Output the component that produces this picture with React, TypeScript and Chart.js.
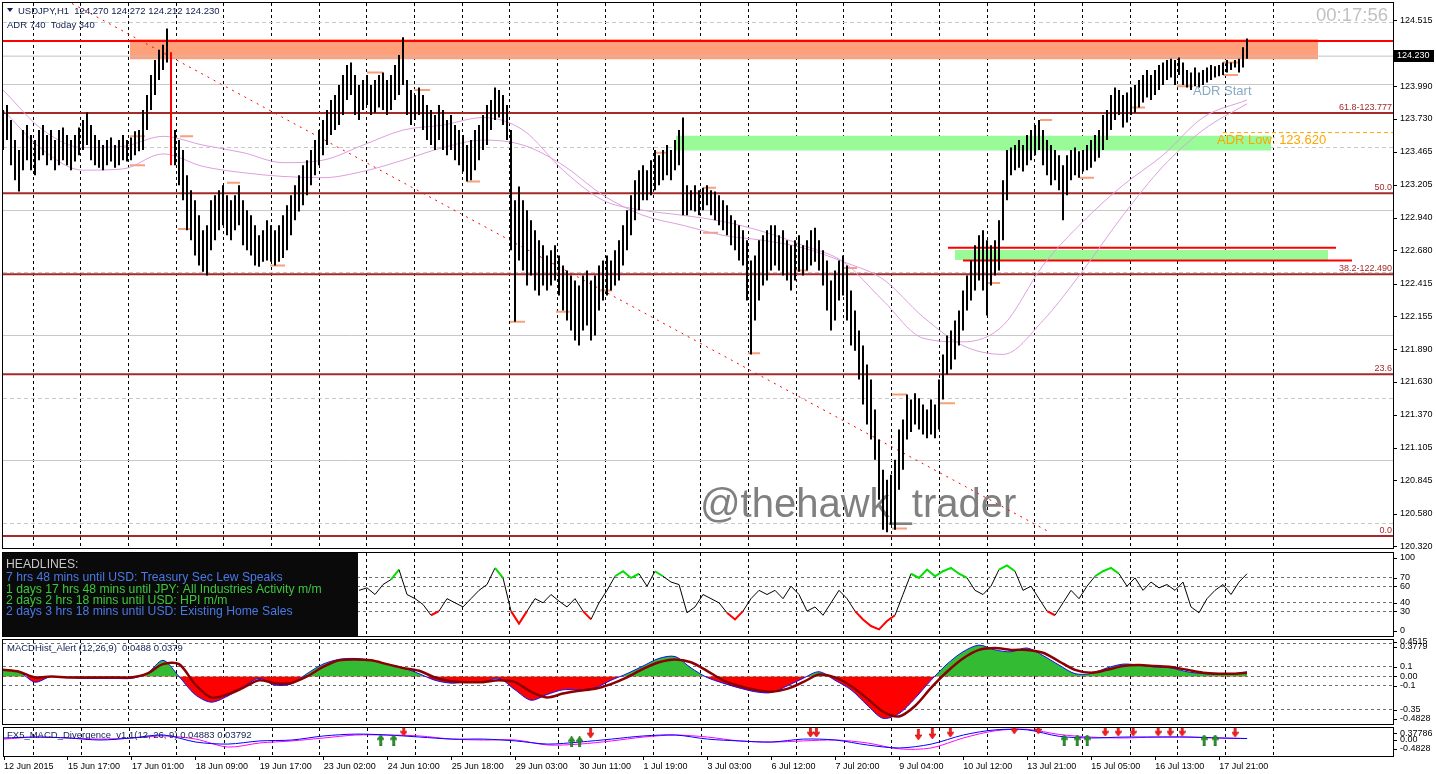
import React, { useEffect, useRef } from "react";
import { Chart, registerables } from "chart.js";

Chart.register(...registerables);

const FONT = "'Liberation Sans', Arial, Helvetica, sans-serif";
Chart.defaults.font.family = FONT;
Chart.defaults.font.size = 9;

// ================= DATA =================
// USDJPY 2-hour price ranges (index = bar number, left to right)
const barHigh = [
  123.80,123.84,123.72,123.56,123.48,123.64,123.68,123.60,123.56,123.64,
  123.68,123.60,123.64,123.56,123.64,123.66,123.60,123.56,123.60,123.66,
  123.72,123.78,123.68,123.60,123.56,123.52,123.56,123.58,123.52,123.56,
  123.60,123.56,123.58,123.63,123.64,123.80,123.92,124.08,124.20,124.28,
  124.32,124.45,124.26,123.64,123.56,123.48,123.28,123.16,123.08,122.96,
  122.84,122.88,123.08,123.12,123.16,123.20,123.12,123.08,123.12,123.20,
  123.08,123.00,122.96,122.88,122.80,122.84,122.92,122.88,122.84,122.88,
  122.96,123.04,123.12,123.20,123.28,123.36,123.40,123.48,123.56,123.64,
  123.72,123.80,123.88,123.92,124.00,124.08,124.16,124.18,124.08,124.00,
  124.04,124.08,124.00,124.04,124.08,124.10,124.04,124.08,124.16,124.24,
  124.38,124.04,123.96,123.92,123.98,123.92,123.84,123.80,123.76,123.84,
  123.80,123.72,123.76,123.68,123.64,123.60,123.52,123.56,123.64,123.68,
  123.76,123.84,123.88,123.98,123.96,123.92,123.84,123.64,123.08,123.19,
  123.08,123.00,122.92,122.84,122.76,122.72,122.64,122.68,122.72,122.64,
  122.56,122.52,122.48,122.44,122.40,122.48,122.52,122.44,122.48,122.56,
  122.60,122.64,122.60,122.68,122.76,122.88,123.00,123.12,123.24,123.32,
  123.36,123.32,123.40,123.48,123.44,123.48,123.52,123.48,123.56,123.64,
  123.74,123.20,123.16,123.20,123.16,123.18,123.20,123.16,123.15,123.12,
  123.08,123.04,122.96,122.92,122.88,122.84,122.76,122.60,122.64,122.76,
  122.80,122.84,122.88,122.88,122.80,122.84,122.76,122.72,122.76,122.80,
  122.72,122.76,122.84,122.86,122.76,122.68,122.60,122.44,122.52,122.60,
  122.64,122.56,122.36,122.20,122.04,121.92,121.77,121.65,121.41,121.17,
  120.93,120.85,120.89,121.01,121.25,121.33,121.53,121.49,121.54,121.50,
  121.45,121.41,121.49,121.45,121.65,121.85,122.00,122.04,122.12,122.20,
  122.36,122.48,122.60,122.72,122.80,122.84,122.76,122.72,122.76,122.92,
  123.24,123.48,123.50,123.52,123.56,123.52,123.60,123.64,123.68,123.72,
  123.64,123.56,123.52,123.48,123.44,123.36,123.44,123.48,123.50,123.47,
  123.48,123.52,123.56,123.60,123.64,123.76,123.80,123.92,123.98,123.96,
  123.92,123.94,123.98,124.00,124.04,124.08,124.12,124.08,124.12,124.16,
  124.18,124.20,124.21,124.20,124.22,124.18,124.12,124.10,124.14,124.10,
  124.12,124.14,124.16,124.15,124.16,124.18,124.20,124.18,124.20,124.21,
  124.30,124.37,
];
const barLow = [
  123.48,123.56,123.36,123.24,123.15,123.32,123.40,123.32,123.28,123.40,
  123.44,123.36,123.40,123.32,123.36,123.40,123.36,123.32,123.39,123.44,
  123.48,123.52,123.40,123.36,123.34,123.32,123.36,123.39,123.34,123.36,
  123.40,123.39,123.40,123.44,123.47,123.48,123.64,123.80,123.92,124.04,
  124.12,124.18,123.36,123.36,123.20,123.08,122.84,122.76,122.64,122.56,
  122.51,122.48,122.68,122.76,122.84,122.88,122.80,122.76,122.84,122.88,
  122.72,122.68,122.64,122.56,122.55,122.59,122.60,122.59,122.56,122.59,
  122.62,122.68,122.80,122.92,122.99,123.04,123.12,123.20,123.28,123.36,
  123.44,123.52,123.60,123.64,123.68,123.76,123.88,123.92,123.76,123.72,
  123.80,123.84,123.76,123.78,123.82,123.80,123.76,123.80,123.88,123.92,
  124.00,123.76,123.68,123.72,123.76,123.64,123.56,123.52,123.48,123.56,
  123.48,123.44,123.48,123.40,123.36,123.31,123.23,123.24,123.32,123.40,
  123.48,123.52,123.64,123.72,123.74,123.68,123.56,122.68,122.11,122.60,
  122.52,122.40,122.48,122.36,122.32,122.40,122.36,122.40,122.44,122.32,
  122.20,122.12,122.04,121.96,121.92,122.04,122.08,121.96,122.00,122.20,
  122.28,122.32,122.36,122.40,122.44,122.56,122.68,122.80,122.92,123.00,
  123.08,123.08,123.12,123.16,123.20,123.24,123.28,123.24,123.32,123.36,
  122.96,122.96,123.00,122.99,122.96,123.00,123.04,122.96,122.92,122.88,
  122.84,122.80,122.72,122.68,122.60,122.56,122.28,121.85,122.12,122.28,
  122.40,122.44,122.52,122.56,122.52,122.48,122.44,122.36,122.44,122.51,
  122.48,122.52,122.56,122.59,122.52,122.40,122.20,122.04,122.12,122.28,
  122.32,122.12,121.92,121.88,121.65,121.45,121.29,121.17,121.01,120.69,
  120.45,120.43,120.49,120.45,120.77,120.93,121.17,121.23,121.29,121.25,
  121.21,121.18,121.21,121.18,121.25,121.49,121.69,121.73,121.81,121.92,
  122.04,122.20,122.28,122.36,122.44,122.36,122.16,122.40,122.48,122.52,
  122.76,123.08,123.28,123.32,123.34,123.31,123.36,123.40,123.44,123.48,
  123.36,123.28,123.20,123.24,123.16,122.92,123.12,123.24,123.28,123.26,
  123.31,123.32,123.34,123.39,123.42,123.48,123.56,123.64,123.72,123.76,
  123.66,123.70,123.76,123.78,123.82,123.86,123.90,123.88,123.92,123.96,
  124.00,124.04,124.06,124.00,124.08,124.00,123.98,123.96,123.99,123.98,
  124.00,124.02,124.04,124.06,124.07,124.08,124.10,124.12,124.14,124.10,
  124.14,124.21,
];
const redBarIndex = 42;
const lastPrice = 124.23;
const symbolLabel = "USDJPY,H1";
const ohlcText = ["124.270", "124.272", "124.212", "124.230"];
const adrText = "ADR 740  Today 340";
const timerText = "00:17:56";
const watermarkText = "@thehawk_trader";

// moving averages (bar index -> price)
const maIndex = [0,10,20,30,40,50,60,70,80,90,100,110,120,130,140,150,160,170,180,190,200,210,220,230,240,250,260,270,280,290,300,311];
const maFast = [123.96,123.64,123.50,123.51,123.59,123.52,123.46,123.38,123.40,123.52,123.64,123.68,123.74,123.64,123.32,123.08,123.00,122.96,122.91,122.83,122.72,122.59,122.28,121.98,121.95,122.08,122.56,122.91,123.20,123.44,123.74,123.88];
const maSlow = [123.80,123.48,123.32,123.33,123.45,123.35,123.30,123.27,123.26,123.31,123.40,123.50,123.56,123.52,123.36,123.12,122.96,122.88,122.80,122.76,122.70,122.59,122.45,122.15,121.92,121.85,122.12,122.52,122.96,123.35,123.64,123.85];

// price axis labels
const priceTicks = [124.515,124.25,123.99,123.73,123.465,123.205,122.94,122.68,122.415,122.155,121.89,121.63,121.37,121.105,120.845,120.58,120.32];
const wholeLevels = [121, 122, 123, 124];
const halfLevels = [120.5, 121.5, 122.5, 123.5, 124.5];

// Fibonacci levels
const fibPrices = [120.40, 121.691, 122.49, 123.136, 123.777];
const fibLabels = ["0.0", "23.6", "38.2-122.490", "50.0", "61.8-123.777"];

// horizontal objects
const resistancePrice = 124.35;
const zoneFrom = [31.75, 168.25, 238];
const zoneTo = [328.75, 317, 331.25];
const zoneTop = [124.364, 123.595, 122.683];
const zoneBottom = [124.205, 123.476, 122.603];
const zoneColors = ["#ffa07a", "#98fb98", "#98fb98"];
const redLineFrom = [236.25, 240];
const redLineTo = [333.25, 337.25];
const redLinePrice = [122.70, 122.60];
const adrLowPrice = 123.62;
const adrLowFrom = 305;
const adrLowLabel = "ADR Low: 123.620";
const adrLowLabelPos = [303.5, 123.56];
const adrStartLabel = "ADR Start";
const adrStartLabelPos = [297.5, 123.95];
const trendX = [17.25, 261.75];
const trendY = [124.65, 120.43];

// daily marker ticks
const markerFrom = [31.75,31.75,44.25,43.75,56,66.75,91,102.75,116,126.75,138.25,149.25,163,175,175,186.25,198,210,222.25,222.25,234.25,245.75,259.25,269.25,281.75,293.5,305,305];
const markerTo = [35.5,35.5,47.5,47.25,59.25,70.5,95,106.75,119.25,130.5,141.75,152.25,166.25,178.75,178.25,189.25,201.25,213.5,226,226,238,249.25,262.25,272.75,285.5,297.5,308.75,308.75];
const markerPrice = [123.59,123.36,123.59,122.85,123.22,122.56,124.10,123.96,123.23,122.11,122.19,122.36,123.46,122.82,123.18,121.86,122.52,122.54,121.53,120.46,121.46,122.42,123.72,123.26,123.82,123.99,124.18,124.08];

// time axis
const xLabelIndex = [0,16,32,48,64,80,96,112,128,144,160,176,192,208,224,240,256,272,288,304];
const xLabelText = ["12 Jun 2015","15 Jun 17:00","17 Jun 01:00","18 Jun 09:00","19 Jun 17:00","23 Jun 02:00","24 Jun 10:00","25 Jun 18:00","29 Jun 03:00","30 Jun 11:00","1 Jul 19:00","3 Jul 03:00","6 Jul 12:00","7 Jul 20:00","9 Jul 04:00","10 Jul 12:00","13 Jul 21:00","15 Jul 05:00","16 Jul 13:00","17 Jul 21:00"];

// headlines
const headlineText = [
  "HEADLINES:",
  "7 hrs 48 mins until USD: Treasury Sec Lew Speaks",
  "1 days 17 hrs 48 mins until JPY: All Industries Activity m/m",
  "2 days 2 hrs 18 mins until USD: HPI m/m",
  "2 days 3 hrs 18 mins until USD: Existing Home Sales",
];
const headlineColors = ["#c8c8c8", "#4b78e6", "#3cc83c", "#3cc83c", "#4b78e6"];

// RSI (every 2 bars starting at bar 89)
const rsiStartIndex = 89;
const rsiValues = [
  55,58,50,62,68,80,50,45,38,25,
  30,45,40,35,45,55,62,82,70,30,
  15,30,45,40,50,42,35,45,30,20,
  40,55,72,78,70,75,60,78,72,65,
  62,28,35,50,45,40,28,20,30,45,
  55,50,55,45,60,50,30,35,25,40,
  55,45,30,20,12,8,18,25,50,75,
  70,80,72,78,82,75,70,55,50,60,
  80,85,78,55,60,45,30,25,40,55,
  45,60,72,78,82,75,60,70,55,65,
  58,62,55,65,35,28,45,55,62,50,
  65,75,
];
const rsiAxis = [100, 70, 60, 40, 30, 0];
const rsiLevels = [70, 60, 40, 30];

// MACD (every 4 bars, last point = last bar)
const macdMain = [
  0.07,0.05,-0.06,0.00,-0.01,-0.02,-0.02,-0.02,-0.02,0.03,
  0.17,0.00,-0.19,-0.27,-0.21,-0.11,-0.02,-0.09,-0.08,0.03,
  0.13,0.18,0.19,0.17,0.13,0.09,0.03,-0.04,-0.07,-0.06,
  -0.06,-0.02,-0.14,-0.25,-0.19,-0.14,-0.14,-0.12,-0.04,0.03,
  0.11,0.19,0.21,0.09,-0.01,-0.07,-0.12,-0.16,-0.17,-0.10,
  -0.02,0.05,-0.04,-0.14,-0.30,-0.44,-0.39,-0.23,-0.04,0.13,
  0.26,0.33,0.28,0.26,0.30,0.22,0.12,0.03,0.03,0.09,
  0.13,0.12,0.10,0.09,0.05,0.03,0.02,0.03,0.05,
];
const macdSignal = [
  0.07,0.05,-0.01,0.00,-0.01,-0.01,-0.01,-0.01,-0.01,0.03,
  0.13,0.13,-0.08,-0.22,-0.19,-0.12,-0.04,-0.07,-0.07,0.00,
  0.10,0.17,0.18,0.17,0.13,0.09,0.06,-0.01,-0.05,-0.06,
  -0.06,-0.04,-0.06,-0.16,-0.22,-0.18,-0.15,-0.13,-0.08,-0.01,
  0.08,0.15,0.18,0.15,0.06,-0.04,-0.10,-0.14,-0.16,-0.13,
  -0.06,0.02,-0.01,-0.10,-0.23,-0.37,-0.42,-0.31,-0.12,0.05,
  0.19,0.28,0.30,0.28,0.28,0.25,0.16,0.07,0.04,0.07,
  0.11,0.12,0.11,0.10,0.07,0.04,0.03,0.03,0.04,
];
const macdLevels = [0.35, 0.1, 0, -0.1, -0.35];
const macdAxisValues = [0.4515, 0.3779, 0.1, 0, -0.1, -0.35, -0.4828];
const macdAxisText = ["0.4515", "0.3779", "0.1", "0.00", "-0.1", "-0.35", "-0.4828"];
const macdTitle = "MACDHist_Alert (12,26,9)  0.0488 0.0379";

// MACD divergence panel (every 8 bars, last point = last bar)
const divBlue = [
  0.11,0.16,0.11,0.00,0.11,0.27,-0.11,-0.22,-0.05,0.00,
  0.22,0.32,0.27,0.16,0.05,0.05,-0.05,-0.22,-0.11,0.05,
  0.22,0.27,0.05,-0.05,-0.11,0.05,0.00,-0.27,-0.43,-0.22,
  0.27,0.55,0.55,0.20,0.11,0.16,0.16,0.16,0.11,0.08,
];
const divMagenta = [
  0.05,0.16,0.11,0.05,0.11,0.22,0.05,-0.38,-0.16,-0.05,
  0.11,0.27,0.27,0.22,0.05,0.00,0.00,-0.27,-0.22,-0.05,
  0.16,0.27,0.16,-0.05,-0.11,-0.05,0.00,-0.16,-0.48,-0.43,
  0.11,0.50,0.58,0.30,0.16,0.11,0.16,0.16,0.11,0.08,
];
const upArrowX = [94.25, 97.5, 142, 144, 265.25, 268.5, 271, 300.25, 303];
const upArrowY = [0.0, 0.0, -0.1, -0.1, 0.0, 0.0, 0.0, 0.0, 0.0];
const downArrowX = [100, 146.75, 201.75, 203.25, 228.75, 232.25, 236.75, 252.75, 258.75, 275.5, 278.75, 282.5, 288.75, 291.75, 294.75, 308];
const downArrowY = [0.5, 0.4, 0.45, 0.45, 0.3, 0.35, 0.45, 0.62, 0.62, 0.5, 0.5, 0.5, 0.5, 0.5, 0.5, 0.45];
const divAxisValues = [0.37786, 0, -0.4828];
const divAxisText = ["0.37786", "0.00", "-0.4828"];
const divTitle = "FX5_MACD_Divergence_v1.1(12, 26, 9) 0.04883 0.03792";

// ================= LAYOUT CONSTANTS =================
const X_MIN = 0;
const X_MAX = 347.5;
const Y_MIN = 120.305;
const Y_MAX = 124.654;
const vGrid = Array.from({ length: 27 }, (_, k) => 7.5 + k * 11.925);
const TEXT_NAVY = "#0f1e50";

// ================= HELPERS =================
function xAxes(withLabels: boolean): any {
  return {
    x: {
      type: "linear", position: "bottom", min: X_MIN, max: X_MAX, bounds: "data", offset: false,
      grid: withLabels
        ? { display: true, offset: false, drawOnChartArea: false, drawTicks: true, tickLength: 4, color: "#000" }
        : { display: false, offset: false },
      border: { display: false },
      ticks: withLabels
        ? {
            display: true, autoSkip: false, maxRotation: 0, minRotation: 0, align: "start", padding: 1,
            color: "#000", font: { size: 9, family: FONT },
            callback: (v: any) => {
              const k = xLabelIndex.indexOf(Number(v));
              return k >= 0 ? xLabelText[k] : "";
            },
          }
        : { display: false },
      afterBuildTicks: withLabels ? (ax: any) => { ax.ticks = xLabelIndex.map((v) => ({ value: v })); } : undefined,
      afterFit: (ax: any) => { ax.height = withLabels ? 18 : 0; },
    },
    xg: {
      type: "linear", position: "bottom", min: X_MIN, max: X_MAX, bounds: "data", offset: false,
      grid: { display: true, offset: false, drawOnChartArea: true, drawTicks: false, color: "#000", lineWidth: 1 },
      border: { display: false, dash: [3, 3] },
      ticks: { display: false },
      afterBuildTicks: (ax: any) => { ax.ticks = vGrid.map((v) => ({ value: v })); },
      afterFit: (ax: any) => { ax.height = 0; },
    },
  };
}

function yAxis(min: number, max: number, levels: number[] | null, color: string, dash: number[], width: number): any {
  return {
    type: "linear", position: "right", min, max, bounds: "data",
    grid: levels
      ? { display: true, drawOnChartArea: true, drawTicks: false, color, lineWidth: 1 }
      : { display: false },
    border: { display: false, dash },
    ticks: { display: false },
    afterBuildTicks: levels ? (ax: any) => { ax.ticks = levels.map((v) => ({ value: v })); } : undefined,
    afterFit: (ax: any) => { ax.width = width; },
  };
}

function baseOptions(padding: any): any {
  return {
    responsive: false,
    maintainAspectRatio: false,
    animation: false,
    events: [],
    layout: { padding },
    plugins: { legend: { display: false }, tooltip: { enabled: false } },
  };
}

function lineDs(data: any[], color: string, width: number, extra: any = {}): any {
  return {
    type: "line", data, borderColor: color, borderWidth: width, pointRadius: 0,
    fill: false, tension: 0, spanGaps: false, xAxisID: "x", yAxisID: "y", order: 4, ...extra,
  };
}

function axisPlugin(id: string, values: number[], texts: string[], clamp: boolean, dys: number[] = [], extra?: (chart: any) => void): any {
  return {
    id,
    afterDraw(chart: any) {
      const { ctx, chartArea: a } = chart;
      const sy = chart.scales.y;
      ctx.save();
      ctx.font = `9px ${FONT}`;
      ctx.fillStyle = "#000";
      ctx.strokeStyle = "#000";
      ctx.lineWidth = 1;
      ctx.textAlign = "left";
      ctx.textBaseline = "middle";
      values.forEach((v, i) => {
        let py = sy.getPixelForValue(v);
        if (clamp) py = Math.min(Math.max(py, a.top + 5), a.bottom - 5);
        py += dys[i] || 0;
        const ry = Math.round(py) + 0.5;
        ctx.beginPath();
        ctx.moveTo(a.right + 1, ry);
        ctx.lineTo(a.right + 4, ry);
        ctx.stroke();
        ctx.fillText(texts[i], a.right + 7, py);
      });
      ctx.strokeRect(a.left - 0.5, a.top - 0.5, a.right - a.left + 1, a.bottom - a.top + 1);
      if (extra) extra(chart);
      ctx.restore();
    },
  };
}

function makeArrow(up: boolean, fill: string, stroke: string) {
  const c = document.createElement("canvas");
  c.width = 7;
  c.height = 11;
  const g = c.getContext("2d")!;
  g.fillStyle = fill;
  g.strokeStyle = stroke;
  g.lineWidth = 0.6;
  g.beginPath();
  if (up) {
    g.moveTo(3.5, 0); g.lineTo(7, 5); g.lineTo(4.5, 5); g.lineTo(4.5, 11); g.lineTo(2.5, 11); g.lineTo(2.5, 5); g.lineTo(0, 5);
  } else {
    g.moveTo(3.5, 11); g.lineTo(7, 6); g.lineTo(4.5, 6); g.lineTo(4.5, 0); g.lineTo(2.5, 0); g.lineTo(2.5, 6); g.lineTo(0, 6);
  }
  g.closePath();
  g.fill();
  g.stroke();
  return c;
}

// ================= CHART CONFIGS =================
function mainConfig(): any {
  const full = (p: number) => [{ x: X_MIN, y: p }, { x: X_MAX, y: p }];
  const markerData: any[] = [];
  markerFrom.forEach((f, i) => {
    markerData.push({ x: f, y: markerPrice[i] }, { x: markerTo[i], y: markerPrice[i] }, { x: markerTo[i], y: null });
  });
  const redLineData: any[] = [];
  redLineFrom.forEach((f, i) => {
    redLineData.push({ x: f, y: redLinePrice[i] }, { x: redLineTo[i], y: redLinePrice[i] }, { x: redLineTo[i], y: null });
  });

  const datasets: any[] = [
    {
      type: "bar",
      data: barHigh.map((h, i) => ({ x: i, y: [barLow[i], h] })),
      backgroundColor: (c: any) => (c.dataIndex === redBarIndex ? "#ff0000" : "#000000"),
      borderWidth: 0, barThickness: 2, grouped: false, inflateAmount: 0,
      xAxisID: "x", yAxisID: "y", order: 0,
    },
    lineDs(maIndex.map((x, i) => ({ x, y: maFast[i] })), "#dda0dd", 1, { tension: 0.4, cubicInterpolationMode: "monotone", order: 2 }),
    lineDs(maIndex.map((x, i) => ({ x, y: maSlow[i] })), "#dda0dd", 1, { tension: 0.4, cubicInterpolationMode: "monotone", order: 2 }),
    lineDs(trendX.map((x, i) => ({ x, y: trendY[i] })), "#ff0000", 1, { borderDash: [2, 5], order: 3 }),
    lineDs(markerData, "#f7a07c", 2, { order: 3 }),
    lineDs(full(lastPrice), "#c0c0c0", 1, { order: 7 }),
    ...fibPrices.map((p) => lineDs(full(p), "#a52a2a", 2, { order: 4 })),
    lineDs(full(resistancePrice), "#ff0000", 2, { order: 4 }),
    lineDs(redLineData, "#ff0000", 2, { order: 4 }),
    lineDs([{ x: adrLowFrom, y: adrLowPrice }, { x: X_MAX, y: adrLowPrice }], "#ffa500", 1, { borderDash: [4, 3], order: 4 }),
    ...zoneFrom.map((f, i) =>
      lineDs([{ x: f, y: zoneTop[i] }, { x: zoneTo[i], y: zoneTop[i] }], "rgba(0,0,0,0)", 0, {
        fill: { value: zoneBottom[i] }, backgroundColor: zoneColors[i], order: 9,
      })
    ),
  ];

  const decor = {
    id: "mainDecor",
    beforeDatasetsDraw(chart: any) {
      const { ctx } = chart;
      ctx.save();
      ctx.font = `40px ${FONT}`;
      ctx.fillStyle = "#808080";
      ctx.textAlign = "left";
      ctx.textBaseline = "alphabetic";
      ctx.fillText(watermarkText, 700, 517);
      ctx.restore();
    },
    afterDatasetsDraw(chart: any) {
      const { ctx, chartArea: a, scales } = chart;
      const sx = scales.x;
      const sy = scales.y;
      ctx.save();
      ctx.font = `9px ${FONT}`;
      ctx.fillStyle = "#a52a2a";
      ctx.textAlign = "right";
      ctx.textBaseline = "alphabetic";
      fibPrices.forEach((p, i) => ctx.fillText(fibLabels[i], a.right - 1, sy.getPixelForValue(p) - 3));
      ctx.font = `13px ${FONT}`;
      ctx.textAlign = "left";
      ctx.textBaseline = "middle";
      ctx.fillStyle = "#ffa500";
      ctx.fillText(adrLowLabel, sx.getPixelForValue(adrLowLabelPos[0]), sy.getPixelForValue(adrLowLabelPos[1]));
      ctx.fillStyle = "#87a9c1";
      ctx.fillText(adrStartLabel, sx.getPixelForValue(adrStartLabelPos[0]), sy.getPixelForValue(adrStartLabelPos[1]));
      // header
      ctx.fillStyle = TEXT_NAVY;
      ctx.beginPath();
      ctx.moveTo(7, 8); ctx.lineTo(13, 8); ctx.lineTo(10, 12); ctx.closePath();
      ctx.fill();
      ctx.font = `9.5px ${FONT}`;
      ctx.textBaseline = "alphabetic";
      ctx.fillText(`${symbolLabel}  ${ohlcText.join(" ")}`, 18, 14);
      ctx.fillText(adrText, 7, 27.5);
      ctx.font = `18.5px ${FONT}`;
      ctx.fillStyle = "#c0c0c0";
      ctx.textAlign = "right";
      ctx.fillText(timerText, 1388, 21);
      ctx.restore();
    },
  };

  const priceBox = (chart: any) => {
    const { ctx, chartArea: a } = chart;
    const py = chart.scales.y.getPixelForValue(lastPrice);
    ctx.fillStyle = "#000";
    ctx.fillRect(a.right + 1, Math.round(py) - 6, 40, 12);
    ctx.fillStyle = "#fff";
    ctx.font = `9px ${FONT}`;
    ctx.textAlign = "left";
    ctx.textBaseline = "middle";
    ctx.fillText(lastPrice.toFixed(3), a.right + 4, Math.round(py));
  };

  return {
    type: "line",
    data: { datasets },
    options: {
      ...baseOptions({ left: 3, right: 0, top: 3, bottom: 8 }),
      scales: {
        ...xAxes(false),
        y: yAxis(Y_MIN, Y_MAX, null, "#000", [], 43),
        yg1: yAxis(Y_MIN, Y_MAX, wholeLevels, "#c8c8c8", [], 0),
        yg2: yAxis(Y_MIN, Y_MAX, halfLevels, "#c8c8c8", [4, 3], 0),
      },
    },
    plugins: [decor, axisPlugin("mainAxis", priceTicks, priceTicks.map((v) => v.toFixed(3)), false, [], priceBox)],
  };
}

function rsiConfig(): any {
  const headlines = {
    id: "headlines",
    afterDatasetsDraw(chart: any) {
      const { ctx, chartArea: a } = chart;
      ctx.save();
      ctx.fillStyle = "#0a0a0a";
      ctx.fillRect(3, a.top, 355, a.bottom - a.top);
      ctx.font = `12.2px ${FONT}`;
      ctx.textAlign = "left";
      ctx.textBaseline = "alphabetic";
      const base = [15, 28, 39.5, 51, 62];
      headlineText.forEach((t, i) => {
        ctx.fillStyle = headlineColors[i];
        ctx.fillText(t, 6, a.top + base[i]);
      });
      ctx.restore();
    },
  };
  return {
    type: "line",
    data: {
      datasets: [
        lineDs(rsiValues.map((v, i) => ({ x: rsiStartIndex + 2 * i, y: v })), "#000", 1, {
          segment: {
            borderColor: (c: any) =>
              c.p0.parsed.y > 65 && c.p1.parsed.y > 65 ? "#00e000" : c.p0.parsed.y < 35 && c.p1.parsed.y < 35 ? "#ff0000" : "#000000",
            borderWidth: (c: any) =>
              (c.p0.parsed.y > 65 && c.p1.parsed.y > 65) || (c.p0.parsed.y < 35 && c.p1.parsed.y < 35) ? 2 : 1,
          },
        }),
      ],
    },
    options: {
      ...baseOptions({ left: 3, right: 0, top: 4, bottom: 5 }),
      scales: { ...xAxes(false), y: yAxis(0, 100, rsiLevels, "#707070", [3, 3], 43) },
    },
    plugins: [headlines, axisPlugin("rsiAxis", rsiAxis, rsiAxis.map(String), true)],
  };
}

function macdConfig(): any {
  const idx = (i: number) => (i < macdMain.length - 1 ? i * 4 : barHigh.length - 1);
  const title = {
    id: "macdTitle",
    afterDatasetsDraw(chart: any) {
      const { ctx, chartArea: a } = chart;
      ctx.save();
      ctx.font = `9.5px ${FONT}`;
      ctx.fillStyle = TEXT_NAVY;
      ctx.textAlign = "left";
      ctx.textBaseline = "alphabetic";
      ctx.fillText(macdTitle, 7, a.top + 11);
      ctx.restore();
    },
  };
  return {
    type: "line",
    data: {
      datasets: [
        lineDs(macdSignal.map((v, i) => ({ x: idx(i), y: v })), "#8b0000", 2.5, { tension: 0.3, order: 1 }),
        lineDs(macdMain.map((v, i) => ({ x: idx(i), y: v })), "#1010ff", 1, {
          tension: 0.3, order: 2,
          fill: { target: "origin", above: "#33bb33", below: "#ff0000" },
        }),
      ],
    },
    options: {
      ...baseOptions({ left: 3, right: 0, top: 4, bottom: 4 }),
      scales: { ...xAxes(false), y: yAxis(-0.5, 0.384, macdLevels, "#707070", [3, 3], 43) },
    },
    plugins: [title, axisPlugin("macdAxis", macdAxisValues, macdAxisText, true, [-3, 2, 0, 0, 0, 0, 0])],
  };
}

function divConfig(): any {
  const idx = (i: number) => (i < divBlue.length - 1 ? i * 8 : barHigh.length - 1);
  const upImg = makeArrow(true, "#1f9a1f", "#0b4f0b");
  const downImg = makeArrow(false, "#ff1a1a", "#b00000");
  const title = {
    id: "divTitle",
    afterDatasetsDraw(chart: any) {
      const { ctx, chartArea: a } = chart;
      ctx.save();
      ctx.font = `9.5px ${FONT}`;
      ctx.fillStyle = TEXT_NAVY;
      ctx.textAlign = "left";
      ctx.textBaseline = "alphabetic";
      ctx.fillText(divTitle, 7, a.top + 10);
      ctx.restore();
    },
  };
  return {
    type: "line",
    data: {
      datasets: [
        lineDs(upArrowX.map((x, i) => ({ x, y: upArrowY[i] })), "#000", 0, { showLine: false, pointStyle: upImg, pointRadius: 4, order: 0 }),
        lineDs(downArrowX.map((x, i) => ({ x, y: downArrowY[i] })), "#000", 0, { showLine: false, pointStyle: downImg, pointRadius: 4, order: 0 }),
        lineDs(divBlue.map((v, i) => ({ x: idx(i), y: v })), "#0000ff", 1, { tension: 0.3, order: 2 }),
        lineDs(divMagenta.map((v, i) => ({ x: idx(i), y: v })), "#ff00ff", 1, { tension: 0.3, order: 3 }),
      ],
    },
    options: {
      ...baseOptions({ left: 3, right: 0, top: 4, bottom: 0 }),
      scales: { ...xAxes(true), y: yAxis(-0.865, 0.65, null, "#000", [], 43) },
    },
    plugins: [title, axisPlugin("divAxis", divAxisValues, divAxisText, true)],
  };
}

// ================= COMPONENT =================
export default function App() {
  const mainRef = useRef<HTMLCanvasElement>(null);
  const rsiRef = useRef<HTMLCanvasElement>(null);
  const macdRef = useRef<HTMLCanvasElement>(null);
  const divRef = useRef<HTMLCanvasElement>(null);

  useEffect(() => {
    const charts: Chart[] = [];
    charts.push(new Chart(mainRef.current as any, mainConfig()));
    charts.push(new Chart(rsiRef.current as any, rsiConfig()));
    charts.push(new Chart(macdRef.current as any, macdConfig()));
    charts.push(new Chart(divRef.current as any, divConfig()));
    return () => charts.forEach((c) => c.destroy());
  }, []);

  const cv = (top: number, height: number): React.CSSProperties => ({
    position: "absolute", left: 0, top, width: 1436, height, display: "block",
  });

  return (
    <div style={{ position: "fixed", left: 0, top: 0, width: 1436, height: 774, background: "#ffffff", overflow: "hidden" }}>
      <canvas ref={mainRef} width={1436} height={556} style={cv(0, 556)} />
      <canvas ref={rsiRef} width={1436} height={92} style={cv(549, 92)} />
      <canvas ref={macdRef} width={1436} height={92} style={cv(636, 92)} />
      <canvas ref={divRef} width={1436} height={50} style={cv(724, 50)} />
    </div>
  );
}
